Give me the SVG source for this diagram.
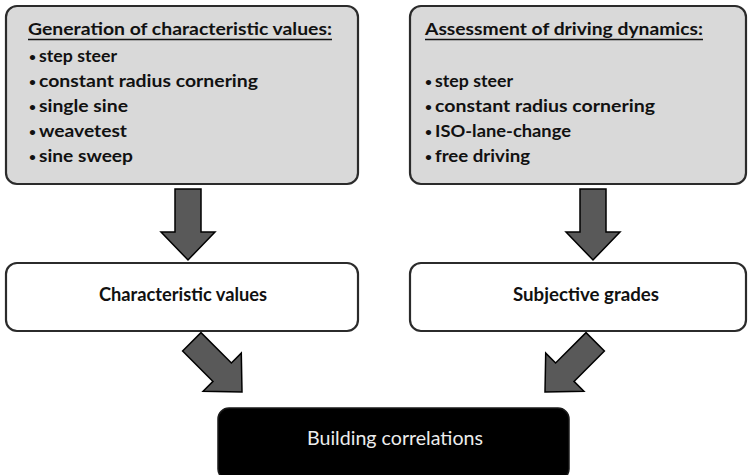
<svg xmlns="http://www.w3.org/2000/svg" width="753" height="475" viewBox="0 0 753 475">
  <style>
    .panel { fill: #d9d9d9; stroke: #2b2b2b; stroke-width: 2.2; }
    .plain { fill: #ffffff; stroke: #2b2b2b; stroke-width: 2.2; }
    .dark { fill: #000000; stroke: #1a1a1a; stroke-width: 1.5; }
    .t { font-family: Lato, "Open Sans", "Liberation Sans", sans-serif; font-weight: bold; fill: #111111; }
    .head { font-size: 17px; }
    .item { font-size: 17.5px; }
    .dot { font-size: 12px; }
    .mid { font-size: 19.5px; text-anchor: middle; }
    .light { font-family: Lato, "Open Sans", "Liberation Sans", sans-serif; font-size: 19px; fill: #ededed; text-anchor: middle; }
    .ul { stroke: #111111; stroke-width: 1.5; }
    .arrow { fill: #595959; stroke: #000000; stroke-width: 1.5; stroke-linejoin: miter; }
  </style>
  <defs>
    <!-- block arrow pointing down, tip at the origin -->
    <path id="blockArrow" d="M -13,-71 L 13,-71 L 13,-28 L 27,-28 L 0,0 L -27,-28 L -13,-28 Z"/>
  </defs>

  <g id="generation">
    <rect class="panel" x="6" y="6" width="352" height="178" rx="11"/>
    <text class="t head" x="28" y="35" textLength="304" lengthAdjust="spacingAndGlyphs">Generation of characteristic values:</text>
    <line class="ul" x1="28" y1="39.5" x2="332" y2="39.5"/>
    <text class="t dot" x="29" y="61">•</text>
    <text class="t item" x="39" y="62" textLength="78" lengthAdjust="spacingAndGlyphs">step steer</text>
    <text class="t dot" x="29" y="86">•</text>
    <text class="t item" x="39" y="87" textLength="219" lengthAdjust="spacingAndGlyphs">constant radius cornering</text>
    <text class="t dot" x="29" y="111">•</text>
    <text class="t item" x="39" y="112" textLength="89" lengthAdjust="spacingAndGlyphs">single sine</text>
    <text class="t dot" x="29" y="136">•</text>
    <text class="t item" x="39" y="137" textLength="88" lengthAdjust="spacingAndGlyphs">weavetest</text>
    <text class="t dot" x="29" y="161">•</text>
    <text class="t item" x="39" y="162" textLength="94" lengthAdjust="spacingAndGlyphs">sine sweep</text>
  </g>

  <g id="assessment">
    <rect class="panel" x="410" y="6" width="336" height="178" rx="11"/>
    <text class="t head" x="425" y="35" textLength="278" lengthAdjust="spacingAndGlyphs">Assessment of driving dynamics:</text>
    <line class="ul" x1="425" y1="39.5" x2="703" y2="39.5"/>
    <text class="t dot" x="425" y="86">•</text>
    <text class="t item" x="435" y="87" textLength="78" lengthAdjust="spacingAndGlyphs">step steer</text>
    <text class="t dot" x="425" y="111">•</text>
    <text class="t item" x="435" y="112" textLength="220" lengthAdjust="spacingAndGlyphs">constant radius cornering</text>
    <text class="t dot" x="425" y="136">•</text>
    <text class="t item" x="435" y="137" textLength="136" lengthAdjust="spacingAndGlyphs">ISO-lane-change</text>
    <text class="t dot" x="425" y="161">•</text>
    <text class="t item" x="435" y="162" textLength="95" lengthAdjust="spacingAndGlyphs">free driving</text>
  </g>

  <g id="characteristic-values">
    <rect class="plain" x="6" y="263" width="352" height="68" rx="11"/>
    <text class="t mid" x="183" y="301" textLength="168" lengthAdjust="spacingAndGlyphs">Characteristic values</text>
  </g>

  <g id="subjective-grades">
    <rect class="plain" x="410" y="263" width="336" height="68" rx="11"/>
    <text class="t mid" x="586" y="301" textLength="146" lengthAdjust="spacingAndGlyphs">Subjective grades</text>
  </g>

  <g id="building-correlations">
    <rect class="dark" x="218" y="408" width="351" height="72" rx="11"/>
    <text class="light" x="395" y="445" textLength="176" lengthAdjust="spacingAndGlyphs">Building correlations</text>
  </g>

  <g id="connectors">
    <use href="#blockArrow" class="arrow" transform="translate(188,260)"/>
    <use href="#blockArrow" class="arrow" transform="translate(593,260)"/>
    <use href="#blockArrow" class="arrow" transform="translate(242,392) rotate(-45)"/>
    <use href="#blockArrow" class="arrow" transform="translate(545,392) rotate(45)"/>
  </g>
</svg>
